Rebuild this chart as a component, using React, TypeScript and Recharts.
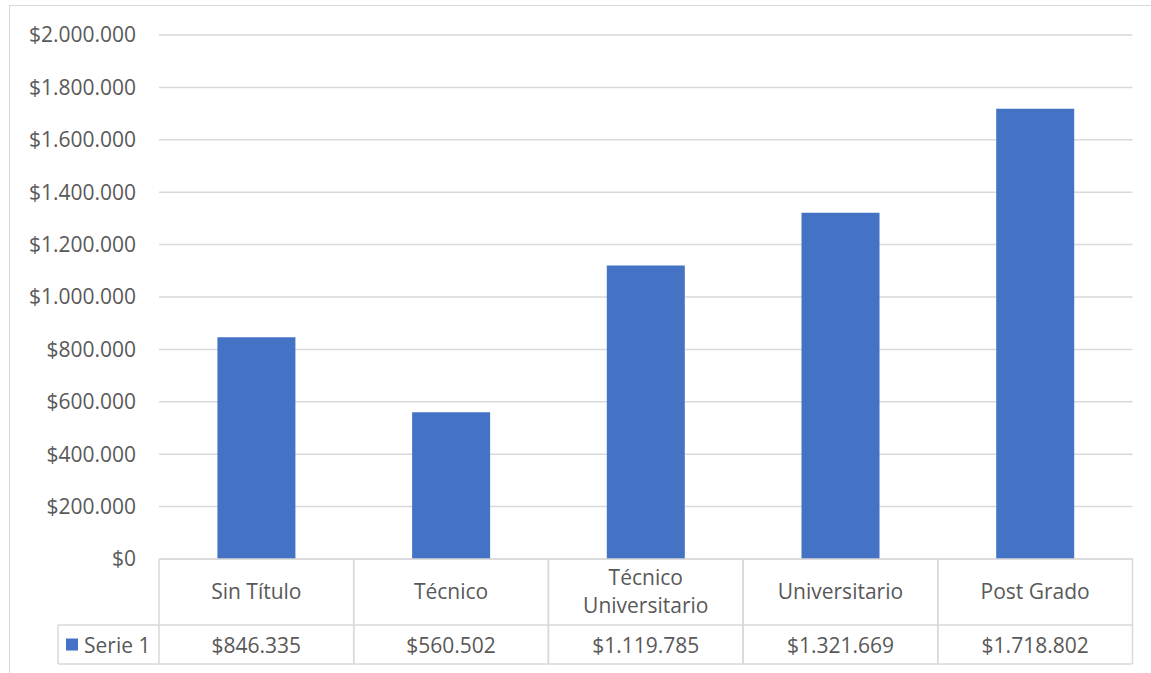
import { BarChart, Bar, XAxis, YAxis, CartesianGrid } from "recharts";

const categories = ["Sin Título", "Técnico", "Técnico Universitario", "Universitario", "Post Grado"];
const headerLines = [["Sin Título"], ["Técnico"], ["Técnico", "Universitario"], ["Universitario"], ["Post Grado"]];
const serie1 = [846335, 560502, 1119785, 1321669, 1718802];
const yTicks = [0, 200000, 400000, 600000, 800000, 1000000, 1200000, 1400000, 1600000, 1800000, 2000000];
const seriesName = "Serie 1";

const BLUE = "#4472C4";
const GRID = "#D9D9D9";
const TEXT = "#595959";
const FONT = "'Open Sans', sans-serif";
const FS = 21;

const data = categories.map((c, i) => ({ name: c, value: serie1[i] }));

const money = (v: number) => "$" + String(Math.round(v)).replace(/\B(?=(\d{3})+(?!\d))/g, ".");

const HEADER_H = 66;
const ROW_H = 39;
const LEGEND_LEFT = 58;

function TableTick(props: any) {
  const { x, y, payload, index } = props;
  const half = payload.offset || 97.35;
  const left = x - half;
  const right = x + half;
  const lines = headerLines[index] || [payload.value];
  const headMid = y + HEADER_H / 2 - 1;
  const rowMid = y + HEADER_H + ROW_H / 2;
  return (
    <g>
      <line x1={left} y1={y} x2={right} y2={y} stroke={GRID} strokeWidth={1.5} />
      <line x1={left} y1={y} x2={left} y2={y + HEADER_H + ROW_H} stroke={GRID} strokeWidth={1.5} />
      <line x1={right} y1={y} x2={right} y2={y + HEADER_H + ROW_H} stroke={GRID} strokeWidth={1.5} />
      <line x1={left} y1={y + HEADER_H} x2={right} y2={y + HEADER_H} stroke={GRID} strokeWidth={1.5} />
      <line x1={left} y1={y + HEADER_H + ROW_H} x2={right} y2={y + HEADER_H + ROW_H} stroke={GRID} strokeWidth={1.5} />
      {lines.map((l: string, i: number) => (
        <text
          key={i}
          x={x}
          y={headMid + (i - (lines.length - 1) / 2) * 28}
          textAnchor="middle"
          dominantBaseline="central"
          fill={TEXT}
          fontSize={FS}
          fontFamily={FONT}
        >
          {l}
        </text>
      ))}
      <text x={x} y={rowMid} textAnchor="middle" dominantBaseline="central" fill={TEXT} fontSize={FS} fontFamily={FONT}>
        {money(serie1[index])}
      </text>
      {index === 0 && (
        <g>
          <line x1={LEGEND_LEFT} y1={y + HEADER_H} x2={left} y2={y + HEADER_H} stroke={GRID} strokeWidth={1.5} />
          <line x1={LEGEND_LEFT} y1={y + HEADER_H + ROW_H} x2={left} y2={y + HEADER_H + ROW_H} stroke={GRID} strokeWidth={1.5} />
          <line x1={LEGEND_LEFT} y1={y + HEADER_H} x2={LEGEND_LEFT} y2={y + HEADER_H + ROW_H} stroke={GRID} strokeWidth={1.5} />
          <rect x={66} y={rowMid - 6} width={12} height={12} fill={BLUE} />
          <text x={84} y={rowMid} dominantBaseline="central" fill={TEXT} fontSize={FS} fontFamily={FONT}>
            {seriesName}
          </text>
        </g>
      )}
    </g>
  );
}

export default function App() {
  return (
    <div
      style={{
        position: "absolute",
        left: 0,
        top: 0,
        width: 1151,
        height: 673,
        overflow: "hidden",
        background: "#fff",
        fontFamily: FONT,
      }}
    >
      <div
        style={{
          position: "absolute",
          left: 9,
          top: 5,
          width: 1300,
          height: 800,
          border: `1.5px solid ${GRID}`,
        }}
      />
      <div style={{ position: "absolute", left: 0, top: 0 }}>
        <BarChart
          width={1151}
          height={673}
          data={data}
          margin={{ top: 35, right: 18.5, left: 0, bottom: 8 }}
          barCategoryGap="30%"
        >
          <CartesianGrid vertical={false} stroke={GRID} strokeWidth={1.5} />
          <YAxis
            width={159}
            domain={[0, 2000000]}
            ticks={yTicks}
            interval={0}
            tickFormatter={money}
            axisLine={false}
            tickLine={false}
            tickMargin={17}
            tick={{ fill: TEXT, fontSize: FS, fontFamily: FONT }}
          />
          <XAxis
            dataKey="name"
            height={106}
            interval={0}
            tickSize={0}
            tickMargin={0}
            axisLine={false}
            tickLine={false}
            tick={<TableTick />}
          />
          <Bar dataKey="value" fill={BLUE} isAnimationActive={false} />
        </BarChart>
      </div>
    </div>
  );
}
